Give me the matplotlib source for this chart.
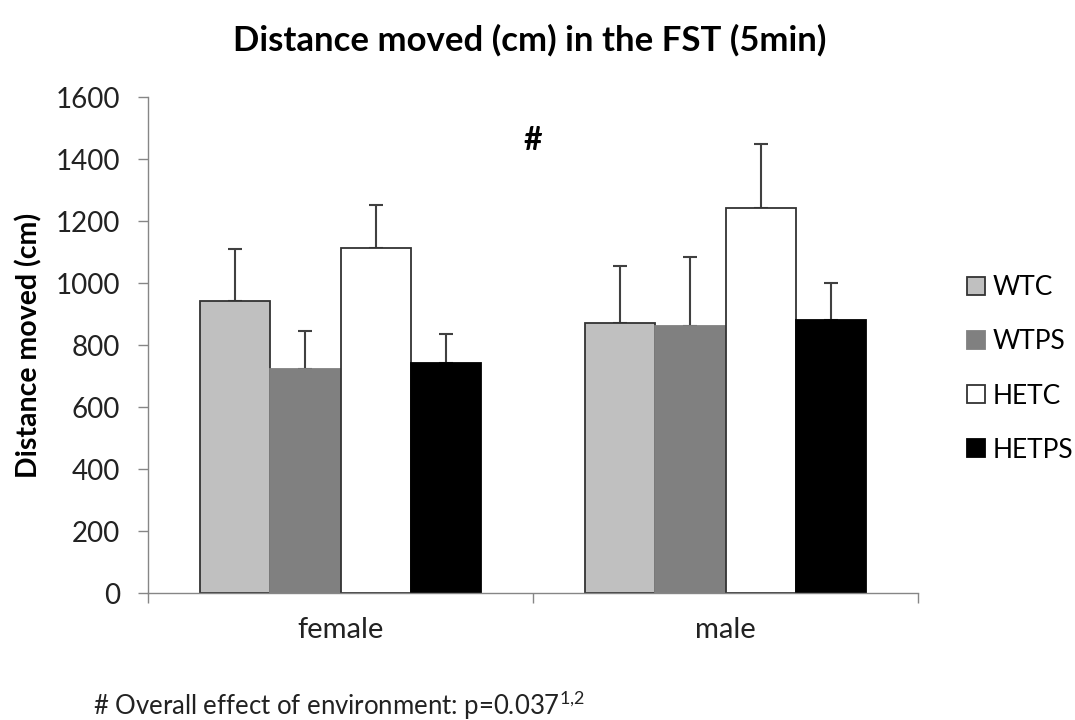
import numpy as np
import matplotlib.pyplot as plt

plt.rcParams['font.family'] = ['Lato', 'DejaVu Sans']
plt.rcParams['mathtext.fontset'] = 'custom'
plt.rcParams['mathtext.rm'] = 'Lato'

sexes = ['female', 'male']
groups = ['WTC', 'WTPS', 'HETC', 'HETPS']
means = {
    'WTC':   [942, 871],
    'WTPS':  [724, 861],
    'HETC':  [1113, 1243],
    'HETPS': [743, 881],
}
sems = {
    'WTC':   [167, 184],
    'WTPS':  [121, 222],
    'HETC':  [140, 204],
    'HETPS': [93, 119],
}
fills = {'WTC': '#c0c0c0', 'WTPS': '#808080', 'HETC': '#ffffff', 'HETPS': '#000000'}
edges = {'WTC': '#333333', 'WTPS': '#808080', 'HETC': '#333333', 'HETPS': '#000000'}

fig = plt.figure(figsize=(10.75, 7.2), dpi=100)
ax = fig.add_axes([148 / 1075, 1 - 593 / 720, 770 / 1075, 496 / 720])

x = np.arange(len(sexes))
width = 0.182
handles = []
for i, g in enumerate(groups):
    pos = x + (i - 1.5) * width
    b = ax.bar(pos, means[g], width, color=fills[g], edgecolor=edges[g], linewidth=1.3,
               label=g, zorder=2)
    handles.append(b)
    ax.errorbar(pos, means[g], yerr=[np.zeros(len(sexes)), sems[g]], fmt='none',
                ecolor='#404040', elinewidth=1.5, capsize=5, capthick=1.5, zorder=1)

ax.set_xlim(-0.5, 1.5)
ax.set_ylim(0, 1600)
ax.set_yticks(np.arange(0, 1601, 200))
ax.set_xticks(x)
ax.set_xticklabels(sexes)
ax.set_xticks([-0.5, 0.5, 1.5], minor=True)
ax.tick_params(axis='x', which='major', length=0, pad=17, labelsize=21, labelcolor='#222222')
ax.tick_params(axis='x', which='minor', length=7, color='#868686', width=1)
ax.tick_params(axis='y', length=7, color='#868686', width=1, labelsize=20,
               labelcolor='#222222', pad=13)

for side in ['top', 'right']:
    ax.spines[side].set_visible(False)
for side in ['left', 'bottom']:
    ax.spines[side].set_color('#868686')
    ax.spines[side].set_linewidth(1)

ax.set_ylabel('Distance moved (cm)', fontsize=20.5, fontweight='bold')
ax.yaxis.set_label_coords((42 - 148) / 770, 0.5)

fig.text(530 / 1075, 1 - 40 / 720, 'Distance moved (cm) in the FST (5min)',
         fontsize=25, fontweight='bold', ha='center', va='center')

ax.text(0.5, 1460, '#', ha='center', va='center', fontsize=23, fontweight='bold')

fig.legend(handles=handles, labels=groups, loc='center left',
           bbox_to_anchor=(967 / 1075, 1 - 369 / 720), frameon=False, fontsize=19,
           borderpad=0, borderaxespad=0, handlelength=0.68, handleheight=0.68,
           handletextpad=0.3, labelspacing=1.1)

fig.text(93 / 1075, 1 - 705 / 720, r'# Overall effect of environment: p=0.037$^{1{,}2}$',
         fontsize=18.5, color='#222222', va='center')

fig.savefig('out.png', dpi=100)
